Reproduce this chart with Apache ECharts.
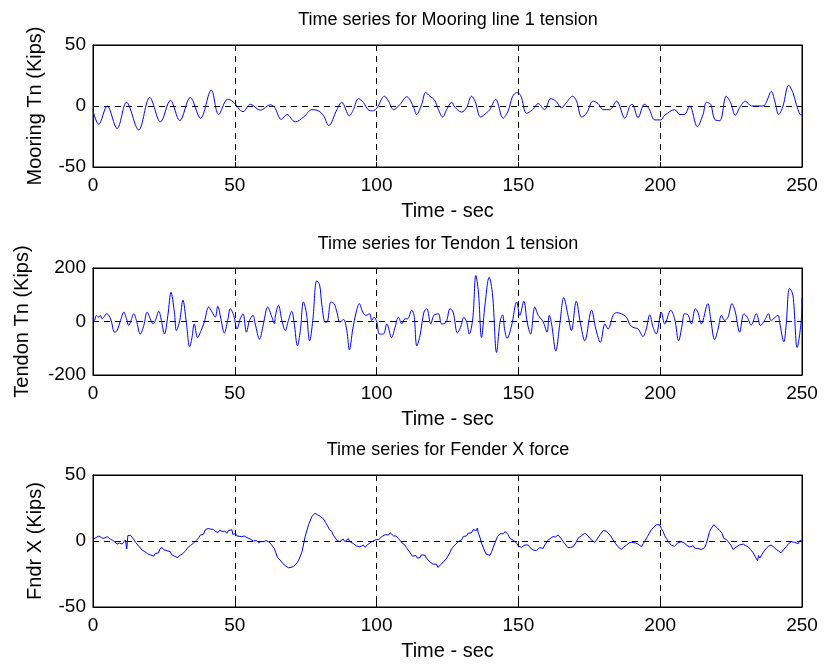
<!DOCTYPE html>
<html><head><meta charset="utf-8">
<script src="https://cdn.jsdelivr.net/npm/echarts@6/dist/echarts.min.js"></script>
<style>html,body{margin:0;padding:0;background:#fff}#c{width:826px;height:664px}</style>
</head><body><div id="c"></div>
<script>
// [time (sec), value (Kips)]
const mooringTension = [[0,-4],[2,-15],[5,0],[8.5,-18.5],[11.8,3],[16.1,-19.6],[20,7],[23.8,-13],[27.3,4.6],[30.6,-12],[34.3,7],[37.9,-10],[41.7,13],[44.3,-7],[47.5,5.5],[49.4,3.5],[52.9,-4.6],[55.5,1.4],[59,-3.5],[62.5,1],[64,-1],[66.4,-11],[68.4,-7],[71.3,-13],[74.3,-9],[77.2,-3],[79.5,-4],[81.3,-8],[83.1,-16],[86,-3],[87.7,3],[90.4,-8],[91.8,-3],[93.6,6],[95.3,3],[97,-3],[98.6,-4],[100,-2],[102.8,8],[104.2,4],[106,-3],[108.3,1.4],[110.6,7.6],[112.9,0],[114.1,-7],[115.9,1.4],[117.3,11],[118.8,8],[120.4,5],[121.8,-3],[123.3,-9],[124.7,-3],[126.5,3],[127.6,-1],[130,-5],[131.7,-1.4],[133.5,8],[134.7,4],[136.7,-9],[138.8,-5.5],[139.9,-3],[142,5.5],[144.6,-10],[146.4,-4],[147.9,7.6],[149.4,11],[150.8,8.7],[152.9,-6],[155,-3],[157,2],[159.2,-3],[161.4,6],[163.2,4],[165.2,-1.4],[167,3],[169.1,8],[170.5,4],[172.3,-9],[174,-6],[176.4,4],[178.1,2],[179.9,-3],[182.2,-3],[184.6,4],[187.5,-10],[189.3,0],[190.1,1.4],[192.2,-9.5],[194.4,1.4],[196,-2],[198.1,-11.4],[200.1,-11.4],[201.6,-7.6],[205.1,-3],[206.9,-7],[208.5,-7],[210.4,0],[213.1,-17],[215.1,-7],[216.3,3],[217.8,1.4],[219.2,-11],[221,-12],[223.3,8],[224.8,3],[226.5,-7.6],[228,-1.4],[230,4],[232.2,0],[236.3,0],[237.4,3],[239.2,12],[240.4,4],[241.8,-7],[243.3,0],[245.3,17],[246.8,11],[248,1.4],[249.7,-7.5],[250,-7]];

const tendonTension = [[0,13],[0.5,4],[1.2,23],[2,16],[2.6,23],[3.2,10],[3.8,16],[4.8,29],[5.6,23],[6.4,4],[7.6,-40],[8.5,-34],[9.7,4],[10.9,35],[11.8,10],[12.6,-15],[13.4,4],[14.4,29],[15.3,4],[16.7,-47],[17.9,-15],[19.1,35],[20.2,10],[21.2,-9],[22,4],[23.2,38],[24.1,4],[25.2,-47],[26.4,23],[27.5,109],[28.7,35],[29.4,-34],[30.6,4],[31.7,80],[32.9,-3],[34.1,-94],[34.9,-60],[35.7,-9],[36.9,-60],[38.1,-34],[39.3,0],[40.8,54],[42,35],[43.1,16],[44,57],[45.1,10],[46.3,-43],[47.5,4],[48.4,48],[49.6,23],[50.8,-28],[51.9,10],[52.9,29],[54.1,-40],[55.2,4],[56.4,23],[57.2,-9],[58.7,-66],[60.1,-9],[61.6,54],[63.1,16],[64,-9],[64.3,20],[65.4,61],[66.6,4],[67.8,-34],[68.9,4],[70.1,38],[70.9,-3],[72.1,-91],[73.1,-34],[74.2,73],[75.2,35],[76.4,-72],[77.5,4],[78.9,152],[79.9,137],[80.7,61],[81.9,-3],[82.7,0],[83.9,73],[85,67],[86,35],[87.1,-3],[88.3,8],[89.5,-34],[90.4,-106],[91.6,-28],[92.8,35],[93.9,67],[95.1,35],[96.3,23],[97.5,29],[98.3,4],[99.1,16],[100.1,-3],[101,-47],[102.4,-47],[103.6,-9],[105.3,-60],[106.5,-22],[107.7,16],[108.9,-9],[110,10],[110.9,10],[112.4,42],[113.2,23],[114.2,-91],[115.3,-53],[116.7,35],[117.7,48],[119.1,-9],[120.2,23],[121.8,29],[122.9,-9],[124.5,-3],[125.9,48],[127,35],[128.5,-43],[129.6,-22],[130.8,16],[131.8,-3],[132.7,-47],[133.9,10],[135,172],[135.9,111],[137,-60],[138.2,61],[139.7,165],[140.9,99],[142.3,-116],[143.5,-3],[144.4,25],[145.2,-34],[146,-63],[147.6,-15],[149.4,73],[150.5,23],[151.9,76],[153.1,-3],[154.3,-47],[155.8,54],[157,23],[158.7,0],[160.1,-40],[160.9,23],[161.7,-9],[163.2,-110],[164.6,-9],[166,89],[167.5,23],[168.7,-34],[170.4,76],[171.9,-9],[173.4,-72],[175.8,42],[177.3,-28],[178.9,-78],[180.5,-9],[181.6,-28],[183.4,23],[184.6,33],[186.3,29],[188.1,16],[189.3,-12],[190.4,-22],[192.2,-28],[193.9,-56],[195.1,-28],[196.3,25],[197.5,-22],[198.6,-47],[200.4,35],[201.6,-9],[203.7,42],[205.1,10],[206.5,-72],[207.7,-15],[208.6,29],[209.8,25],[211,-9],[212.4,48],[213.3,35],[214.5,-9],[216.8,67],[217.8,10],[219.2,-68],[220.4,-28],[221.6,23],[222.7,4],[223.9,16],[225.3,67],[226.5,35],[228,-40],[229.5,29],[230.7,16],[232.1,-13],[233.9,29],[235.4,-15],[236.8,4],[238.2,29],[239.1,4],[241.5,23],[242.1,-3],[243.6,-76],[244.4,-15],[245.6,124],[246.8,99],[248.3,-97],[249.7,0],[250,90]];

const fenderForce = [[0,1.3],[1,2.5],[2.1,3.8],[3,2.5],[3.8,2],[4.4,3.5],[5,3.3],[5.6,2.5],[6.2,1.3],[7,0.5],[7.6,-1],[8.5,-2.3],[9.3,-1.5],[10.3,-2.3],[10.8,-1],[11.4,0.8],[11.9,-6],[12.3,4.1],[13.2,4.4],[14.1,2],[15,-1],[15.6,-2.3],[16.2,-4],[16.6,-3],[17.3,-6.9],[17.8,-5.5],[18.3,-8],[18.8,-7],[19.3,-9.8],[19.7,-8.5],[20.2,-10.5],[20.7,-9],[21.4,-11.5],[21.9,-9.5],[22.6,-8.2],[23.1,-9],[23.6,-6],[24.4,-4.9],[24.9,-6.5],[25.4,-5.5],[26.1,-7.4],[26.6,-8.8],[27.2,-8],[27.8,-10.5],[28.5,-10.8],[29,-11.8],[29.5,-10.5],[29.9,-12.6],[30.5,-11],[31,-12],[31.4,-10],[32,-9],[32.6,-7.5],[33.2,-5.6],[33.8,-6],[34.3,-3.5],[34.9,-3.1],[35.5,-1.5],[36,-2],[36.4,0.3],[37.3,2.5],[37.9,4.6],[38.5,6],[39,5.2],[39.6,8.5],[40.1,7],[40.6,9.5],[41.4,9],[41.9,7.5],[42.4,8.8],[43.1,7.2],[43.6,8.5],[44.1,6.5],[44.7,8.2],[45.5,7.2],[46,6],[46.5,7.5],[47.2,5.9],[47.7,7.8],[48.3,6.5],[49,8.5],[49.3,5],[49.6,4.6],[50.2,5.5],[50.8,3.8],[51.5,4.6],[52.5,3.3],[53.3,3.8],[54.3,2.6],[55.4,1.5],[56.6,0],[57.5,0.5],[58.4,-1.3],[59.3,-0.3],[60.2,-0.5],[61,0.3],[61.9,-0.5],[62.8,-2.5],[63.9,-5.6],[65.1,-12.6],[66,-14.5],[67,-17.2],[68,-19],[68.9,-20.3],[69.8,-20],[70.7,-19.2],[71.6,-17.5],[72.5,-14.6],[73.7,-8.2],[74.8,3.3],[76,12.3],[77.2,18.7],[77.8,19.5],[78.3,21],[78.7,21.3],[79.2,19.8],[79.6,20.6],[80.1,18.7],[80.6,19],[81.3,16.7],[82,14],[82.7,11.5],[83.4,8.5],[84.2,7.2],[84.7,4.5],[85.3,5],[86,0.5],[86.5,2],[87,-0.5],[87.7,-0.5],[88.2,1.5],[88.8,-0.5],[89.5,0.5],[90,1.8],[90.6,-0.5],[91.3,-0.5],[91.8,-2],[92.4,-1.5],[93,-3.8],[93.5,-2.5],[94.1,-4.5],[94.8,-4.9],[95.3,-3],[95.9,-4.8],[96.5,-4.4],[97,-2.5],[97.6,-3],[98.3,-0.5],[99,-1.5],[99.5,0.8],[100.1,0.8],[100.8,1.2],[101.3,2.5],[101.8,3.3],[102.4,2.8],[103,4.8],[103.6,5.9],[104.2,4.5],[104.8,6.2],[105.4,5.4],[106,3.8],[106.5,5],[106.9,3.8],[107.6,2],[108.3,0.3],[109,-1.5],[109.5,-1],[110,-3.1],[110.5,-5],[111,-4.5],[111.6,-8.2],[112.1,-9],[112.6,-11.5],[113.2,-12.6],[113.8,-11],[114.4,-13],[115.3,-12.6],[115.8,-10.5],[116.4,-11.5],[117.1,-10.8],[117.6,-13],[118.2,-14],[118.8,-15.9],[119.3,-15],[119.9,-17.5],[120.6,-18.5],[121.1,-17.5],[121.6,-20],[122.1,-20.5],[122.6,-18],[123,-19],[123.5,-15.9],[124.1,-14.5],[124.6,-13.5],[125.3,-12.6],[125.8,-9],[126.4,-6],[127,-5],[127.6,-3.1],[128.2,-2],[128.8,-0.5],[129.4,0.8],[130,1],[130.6,3.5],[131.2,4.6],[131.7,3.8],[132.3,6],[132.9,7.2],[133.4,6],[134,8.5],[134.4,7.5],[134.7,9],[135.2,8],[135.5,9.8],[135.9,5.9],[136.4,3],[137,-1.8],[137.8,-6],[138.6,-10],[139.3,-9.5],[140,-10.8],[140.6,-8],[141.1,-4.9],[141.8,-1],[142.6,3.3],[143,2],[143.5,5.5],[144.1,6.4],[144.7,5.5],[145.3,7.2],[145.8,5.8],[146.3,5],[147,2],[147.5,2.8],[148.4,0.3],[149,1],[149.5,-2],[150,-3.8],[150.6,-2.5],[151.1,-4.8],[151.7,-4.4],[152.3,-3],[152.9,-4.5],[153.5,-3.1],[154.1,-5],[154.6,-4.5],[155.2,-6.9],[155.8,-5.5],[156.4,-7.2],[157,-6.9],[157.5,-5],[158.1,-6.5],[158.7,-5.6],[159.3,-3],[159.9,-2.5],[160.5,0.8],[161.3,2],[162.2,3.3],[163,3],[164,4.6],[164.6,3.5],[165.2,1.5],[165.8,-0.5],[166.7,-3],[167.5,-5.1],[168.4,-4.8],[169.3,-4.4],[170.2,-1.5],[171,2],[172.2,4],[173.4,5.9],[174.3,4.5],[175.2,2],[176,0.5],[176.9,-1],[177.8,1.5],[178.7,4.6],[179.3,6],[179.9,7.9],[180.4,6.5],[181,7.5],[181.6,7.2],[182.5,4],[183.4,0.8],[184.3,-2],[185.1,-4.4],[185.7,-5.5],[186.3,-6.4],[187.2,-4.5],[188.1,-3.1],[189,-1.5],[189.8,-1],[190.4,-0.5],[191.3,-1.5],[192.2,-2.3],[192.8,-3.5],[193.4,-4.4],[194,-2],[194.5,-0.5],[195.5,3.3],[196.2,6],[196.9,8.5],[197.7,10.5],[198.6,12.3],[199.2,13],[199.8,12.3],[200.4,9.5],[201,7.2],[201.6,4],[202.2,2],[203,-1],[203.9,-3.1],[204.4,-2],[205,-4],[205.7,-3.1],[206.2,-1.5],[206.8,-2.5],[207.4,-0.5],[208,-2],[208.6,-1.5],[209.2,-3.1],[209.8,-2.5],[210.4,-4.5],[211,-4.9],[211.6,-3.5],[212.2,-5.5],[212.8,-4.5],[213.3,-5.6],[214,-5],[214.5,-6.5],[215.1,-6.9],[215.7,-5],[216.3,-1.8],[216.9,3],[217.4,7.2],[218.1,10],[218.9,12.3],[219.6,12],[220.1,10],[220.4,11],[221,8],[221.8,5.9],[222.2,6.5],[222.4,2],[222.7,2],[223.4,1],[224.1,-0.5],[224.9,-3],[225.7,-6.4],[226.2,-5],[226.8,-4.5],[227.4,-3.8],[228,-3],[228.6,-4],[229.3,-2.3],[230.1,-3.5],[231,-4.4],[231.9,-6.5],[232.8,-9],[233.4,-10],[233.8,-13],[234.3,-15],[234.7,-11],[235.1,-13],[235.6,-11.5],[236.5,-8],[237.4,-5.6],[238.2,-4],[239.1,-3.1],[240,-4.5],[240.9,-6.4],[241.7,-7.5],[242.6,-9],[243.5,-6.5],[244.4,-4.4],[245.3,-2],[246.2,-0.5],[246.8,0.5],[247.3,-1],[248,-0.5],[248.7,-2],[249.3,0.5],[250,-0.5]];

const titles = ['Time series for Mooring line 1 tension','Time series for Tendon 1 tension','Time series for Fender X force'];
const yNames = ['Mooring Tn (Kips)','Tendon Tn (Kips)','Fndr X (Kips)'];
const yRanges = [[-50,50,50],[-200,200,200],[-50,50,50]];
const xRange = [0,250,50];
const xName = 'Time - sec';

const FONT = "'Liberation Sans', Arial, sans-serif";
const grids = [
  {left:93, right:24, top:45, height:122},
  {left:93, right:24, top:268, height:107},
  {left:93, right:24, top:475, height:132}
];
const yNameGaps = [48, 61, 48];
const titleY = [20, 244, 450];
const dashed = {show:true, lineStyle:{color:'#000', type:[6,5], width:1}};

const xAxis = [], yAxis = [], graphic = [];
grids.forEach((g,i)=>{
  xAxis.push({type:'value', gridIndex:i, min:xRange[0], max:xRange[1], interval:xRange[2], position:'bottom',
    axisLine:{show:true, onZero:false, lineStyle:{color:'#000'}}, axisTick:{show:true, inside:true, length:5, lineStyle:{color:'#000'}},
    axisLabel:{color:'#000', fontSize:19, fontFamily:FONT, margin:9},
    splitLine:dashed, name:xName, nameLocation:'middle', nameGap:34,
    nameTextStyle:{color:'#000', fontSize:20, fontFamily:FONT}});
  xAxis.push({type:'value', gridIndex:i, min:xRange[0], max:xRange[1], interval:xRange[2], position:'top',
    axisLine:{show:true, onZero:false, lineStyle:{color:'#000'}}, axisTick:{show:true, inside:true, length:5, lineStyle:{color:'#000'}},
    axisLabel:{show:false}, splitLine:{show:false}});
  const r = yRanges[i];
  yAxis.push({type:'value', gridIndex:i, min:r[0], max:r[1], interval:r[2], position:'left',
    axisLine:{show:true, onZero:false, lineStyle:{color:'#000'}}, axisTick:{show:true, inside:true, length:5, lineStyle:{color:'#000'}},
    axisLabel:{color:'#000', fontSize:19, fontFamily:FONT, margin:7},
    splitLine:dashed, name:yNames[i], nameLocation:'middle', nameGap:yNameGaps[i], nameRotate:90,
    nameTextStyle:{color:'#000', fontSize:20, fontFamily:FONT}});
  yAxis.push({type:'value', gridIndex:i, min:r[0], max:r[1], interval:r[2], position:'right',
    axisLine:{show:true, onZero:false, lineStyle:{color:'#000'}}, axisTick:{show:true, inside:true, length:5, lineStyle:{color:'#000'}},
    axisLabel:{show:false}, splitLine:{show:false}});
  graphic.push({type:'text', x:448, y:titleY[i], style:{text:titles[i], textAlign:'center', textVerticalAlign:'middle',
    font:'18px '+FONT, fill:'#000'}});
});

const seriesData = [mooringTension, tendonTension, fenderForce];
const series = seriesData.map((d,i)=>({type:'line', xAxisIndex:2*i, yAxisIndex:2*i, data:d, showSymbol:false,
  smooth: i===2 ? false : 0.35, lineStyle:{color:'#0000ff', width:1}, z:5}));

const chart = echarts.init(document.getElementById('c'));
chart.setOption({animation:false, backgroundColor:'#fff', grid:grids.map(g=>Object.assign({show:true, borderColor:'#000', borderWidth:1, backgroundColor:'#fff'},g)),
  xAxis, yAxis, series, graphic});
</script></body></html>
